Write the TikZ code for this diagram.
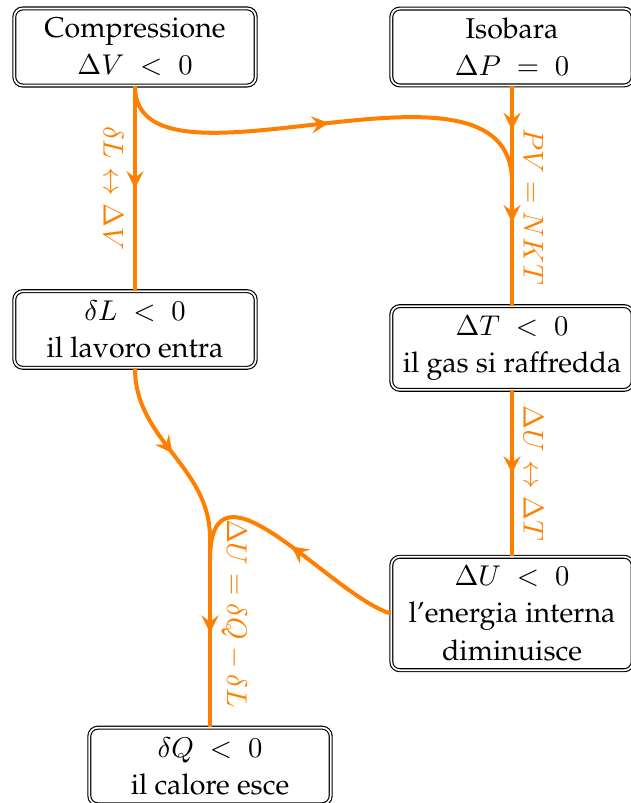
\documentclass[tikz,border=0pt]{standalone}
\usepackage[T1]{fontenc}
\usepackage{palatino}
\usepackage{amsmath,amssymb}
\usepackage{xcolor}
\usepackage{tikz}
\usetikzlibrary{arrows.meta,decorations.markings}

\begin{document}
\begin{tikzpicture}[
  x=0.35pt, y=-0.35pt,
  box/.style={draw, double, rounded corners=3pt, minimum width=84.5pt,
              align=center, font=\normalsize},
  arr/.style={color=orange, line width=1.4pt},
  arrowat/.style={postaction={decorate, decoration={markings,
              mark=at position #1 with {\arrow{Stealth[length=6pt,width=6pt,inset=2.2pt]}}}}},
  lbl/.style={sloped, text=orange}
]
\useasboundingbox (0,0) rectangle (630,803);

% Top row: the two starting conditions
\node[box] (comp) at (135,47) {Compressione\\[1pt] $\Delta V \;<\; 0$};
\node[box] (isob) at (512,47) {Isobara\\[1pt] $\Delta P \;=\; 0$};

% Middle: work and temperature
\node[box] (lav) at (135,329.5) {$\delta L \;<\; 0$\\[1pt] il lavoro entra};
\node[box] (temp) at (512,348) {$\Delta T \;<\; 0$\\[1pt] il gas si raffredda};

% Bottom: internal energy and heat
\node[box] (ener) at (512,613.5) {$\Delta U \;<\; 0$\\[1pt] l'energia interna\\[1pt] diminuisce};
\node[box] (calo) at (210,766) {$\delta Q \;<\; 0$\\[1pt] il calore esce};

% Junctions where the curves meet the vertical lines
\coordinate (join1) at (512,182);
\coordinate (join2) at (210,538);
\coordinate (join3) at (210,560);

\draw[arr, arrowat=0.5] (comp.south) -- node[lbl, below] {$\delta L \leftrightarrow \Delta V$} (lav.north);
\draw[arr, arrowat=0.5] (comp.south) .. controls +(0,124) and +(0,-152) .. (join1);
\draw[arr, arrowat=0.2, arrowat=0.62] (isob.south) -- node[lbl, above, pos=0.55] {$PV = NKT$} (temp.north);
\draw[arr, arrowat=0.5] (temp.south) -- node[lbl, above] {$\Delta U \leftrightarrow \Delta T$} (ener.north);

\draw[arr, arrowat=0.5] (lav.south) .. controls +(0,72) and +(0,-72) .. (join2);
\draw[arr, arrowat=0.5] (ener.west) .. controls +(-60,-18) and +(0,-115) .. (join3);
\draw[arr, arrowat=0.5] (join2) -- node[lbl, above, pos=0.4] {$\Delta U = \delta Q - \delta L$} (calo.north);

\end{tikzpicture}
\end{document}
